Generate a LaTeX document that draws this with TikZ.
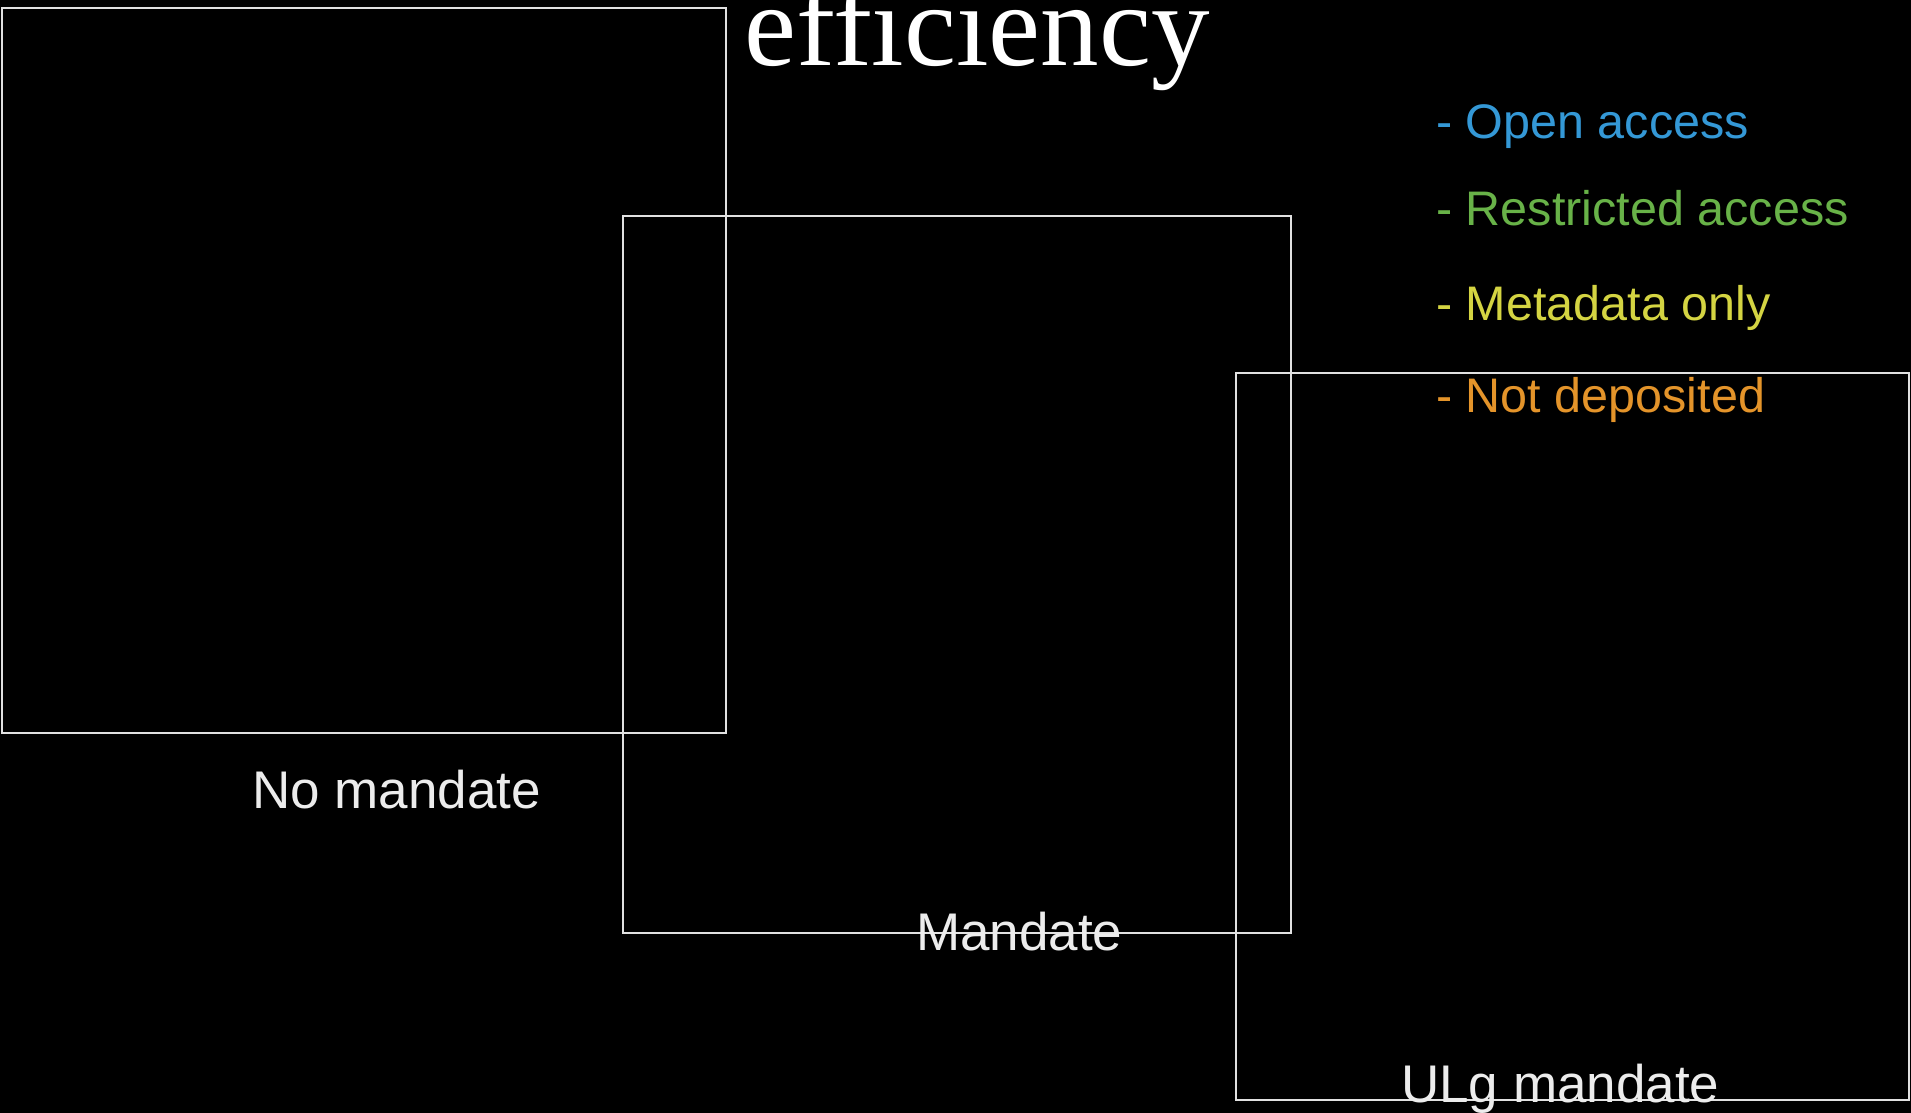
\documentclass[tikz,border=0pt]{standalone}
\usepackage{fontspec}
\setmainfont{Liberation Serif}
\newfontfamily\lab{Liberation Sans}
\definecolor{boxline}{RGB}{225,225,225}
\definecolor{labtext}{RGB}{236,236,236}
\definecolor{oacol}{RGB}{52,152,214}
\definecolor{racol}{RGB}{104,178,72}
\definecolor{mdcol}{RGB}{212,212,66}
\definecolor{ndcol}{RGB}{228,148,42}
\tikzset{
  frame/.style={draw=boxline, line width=2.6pt},
  boxlabel/.style={inner sep=0pt, anchor=base west, text=labtext, font=\lab\fontsize{53}{53}\selectfont},
  legend/.style={inner sep=0pt, anchor=base west, font=\lab\fontsize{48.5}{48.5}\selectfont},
  titletext/.style={inner sep=0pt, anchor=base west, text=white, font=\fontsize{117}{117}\selectfont}
}
\begin{document}
\begin{tikzpicture}[x=1pt,y=-1pt]
\fill[black] (0,0) rectangle (1911,1113);
\useasboundingbox (0,0) rectangle (1911,1113);
% boxes
\draw[frame] (2,8) rectangle (726,733);
\draw[frame] (623,216) rectangle (1291,933);
\draw[frame] (1236,373) rectangle (1909,1100);
% title
\node[titletext] (ttl) at (744,66) {efficiency};
% legend
\node[legend, text=oacol] (oa) at (1436,139) {- Open access};
\node[legend, text=racol] (ra) at (1436,225) {- Restricted access};
\node[legend, text=mdcol] (md) at (1436,320) {- Metadata only};
\node[legend, text=ndcol] (nd) at (1436,412) {- Not deposited};
% labels
\node[boxlabel] (nm) at (252,808) {No mandate};
\node[boxlabel] (m) at (916,950) {Mandate};
\node[boxlabel] (ulg) at (1401,1102) {ULg mandate};
\end{tikzpicture}
\end{document}
